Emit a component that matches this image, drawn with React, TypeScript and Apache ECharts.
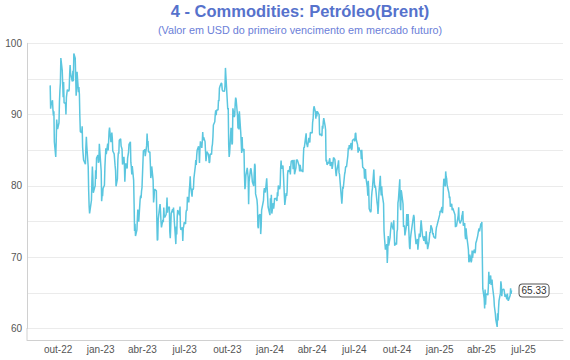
import React, { useEffect, useRef } from 'react';
import * as echarts from 'echarts';

const titleText = '4 - Commodities: Petróleo(Brent)';
const subtitleText = '(Valor em USD do primeiro vencimento em mercado futuro)';

// first trading day shown (year, month 0-based, day)
const firstDay = [2022, 8, 14];

// Brent front-month closes, one inner array per month (weekday order)
const brent2022: number[][] = [
  [94.10, 90.84, 91.35, 92.00, 90.62, 89.83, 90.46, 86.15, 84.06, 86.27, 89.32, 88.49, 87.96],
  [88.86, 91.80, 93.37, 94.42, 97.92, 96.19, 94.29, 92.45, 94.57, 91.63, 91.62, 90.03, 92.41, 92.38, 93.50, 93.26, 93.52, 95.69, 96.96, 95.77, 94.83],
  [94.65, 96.16, 94.67, 98.57, 97.92, 95.36, 92.65, 93.67, 95.99, 93.14, 93.86, 92.86, 89.78, 87.62, 87.45, 88.36, 85.41, 85.34, 83.63, 83.19, 83.03, 85.43],
  [86.88, 85.57, 82.68, 79.35, 77.17, 76.15, 76.10, 77.99, 80.68, 82.70, 81.21, 79.04, 79.80, 79.99, 82.20, 80.98, 83.92, 84.33, 83.26, 83.46, 85.91],
];

const brent2023: number[][] = [
  [82.10, 77.84, 78.69, 78.57, 79.65, 80.10, 82.67, 84.03, 85.28, 84.46, 85.92, 84.98, 86.16, 87.63, 88.19, 86.13, 86.12, 87.47, 86.66, 84.90, 84.49],
  [82.84, 82.17, 79.94, 80.99, 83.69, 84.69, 84.50, 86.39, 86.61, 85.58, 85.38, 85.14, 83.00, 84.07, 83.05, 80.60, 82.21, 83.16, 82.45, 83.89],
  [84.31, 84.75, 85.83, 86.18, 83.29, 82.66, 81.59, 82.78, 80.77, 77.45, 73.69, 74.70, 72.97, 73.79, 75.32, 76.69, 75.91, 74.99, 78.12, 78.65, 78.28, 79.27, 79.77],
  [84.93, 84.94, 84.99, 85.12, 84.18, 85.61, 87.33, 86.09, 86.31, 84.76, 84.77, 83.12, 81.10, 81.66, 82.73, 80.77, 77.69, 78.37, 79.54],
  [79.31, 75.32, 72.33, 72.50, 75.30, 77.01, 77.44, 76.41, 74.98, 74.17, 75.23, 74.91, 76.96, 75.86, 75.58, 75.99, 76.84, 78.36, 76.26, 76.95, 77.07, 73.54, 72.66],
  [74.28, 76.13, 76.71, 76.29, 76.95, 75.96, 74.79, 71.84, 74.29, 73.20, 75.67, 76.61, 76.09, 75.90, 77.12, 74.14, 73.85, 74.18, 72.26, 74.03, 74.34, 74.90],
  [74.65, 76.25, 76.65, 76.52, 78.47, 77.69, 79.40, 80.11, 81.36, 79.87, 78.50, 79.63, 79.46, 79.64, 81.07, 82.74, 83.64, 82.92, 84.24, 84.99, 85.56],
  [84.91, 83.20, 85.14, 86.24, 85.34, 86.17, 87.55, 86.40, 86.81, 86.21, 84.89, 83.45, 84.12, 84.80, 84.46, 84.03, 83.21, 83.36, 84.48, 84.42, 85.49, 85.86, 86.86],
  [88.55, 88.99, 90.04, 90.60, 89.92, 90.65, 90.64, 92.06, 91.88, 93.70, 93.93, 94.43, 94.34, 93.53, 93.30, 93.27, 93.29, 93.96, 96.55, 95.38, 95.31],
  [90.71, 90.92, 85.81, 84.07, 84.58, 88.15, 87.65, 85.82, 86.00, 90.89, 89.65, 89.90, 91.50, 92.38, 92.16, 89.83, 88.07, 90.13, 87.93, 90.48, 87.45, 87.41],
  [84.63, 86.85, 84.89, 85.18, 81.61, 79.54, 80.01, 81.43, 82.52, 82.47, 81.18, 77.42, 80.61, 82.32, 82.45, 81.96, 81.42, 80.58, 79.98, 81.68, 83.10, 82.83],
  [78.88, 78.03, 77.20, 74.30, 74.05, 75.84, 76.03, 73.24, 74.26, 76.61, 76.55, 77.95, 79.23, 79.70, 79.39, 79.07, 81.07, 79.65, 78.39, 77.04],
];

const brent2024: number[][] = [
  [75.89, 78.25, 77.59, 78.76, 76.12, 77.59, 76.80, 77.41, 78.29, 78.15, 78.29, 77.88, 79.10, 78.56, 80.06, 79.55, 80.04, 82.43, 83.55, 82.40, 82.87, 81.71],
  [78.70, 77.33, 78.99, 78.59, 79.21, 81.63, 82.19, 82.00, 82.77, 81.60, 82.86, 83.47, 83.56, 82.34, 83.03, 83.67, 81.62, 82.53, 83.65, 83.68, 83.62],
  [83.55, 82.80, 82.04, 82.96, 82.96, 82.08, 82.21, 81.92, 84.03, 85.42, 85.34, 86.89, 87.38, 85.95, 85.78, 85.43, 86.75, 86.25, 86.09, 87.48],
  [87.42, 88.92, 89.35, 90.65, 91.17, 90.38, 89.42, 90.48, 89.74, 90.45, 90.10, 90.02, 87.29, 87.11, 87.29, 87.00, 88.42, 88.02, 89.01, 89.50, 88.40, 87.86],
  [83.44, 83.67, 82.96, 83.33, 83.16, 83.58, 83.88, 82.79, 83.36, 82.38, 82.75, 83.27, 83.98, 83.71, 82.88, 81.90, 81.36, 82.12, 83.10, 83.60, 81.86, 81.62],
  [78.36, 77.52, 78.41, 79.87, 79.62, 81.63, 81.92, 82.60, 82.75, 82.62, 84.25, 85.33, 85.07, 85.71, 85.24, 86.01, 85.01, 85.25, 86.39, 86.41],
  [86.60, 86.24, 87.34, 87.43, 86.54, 85.75, 84.66, 85.08, 85.40, 85.03, 84.85, 83.73, 85.08, 85.11, 82.63, 82.40, 81.01, 81.71, 82.37, 81.13, 79.78, 78.63, 80.72],
  [79.52, 76.81, 76.30, 76.48, 78.33, 79.16, 79.66, 82.30, 80.69, 79.76, 80.04, 79.68, 77.66, 77.20, 76.05, 77.22, 79.02, 81.43, 79.55, 78.65, 79.94, 78.80],
  [77.52, 73.75, 72.70, 72.69, 71.06, 71.84, 69.19, 70.61, 72.97, 71.61, 72.75, 73.70, 73.65, 74.88, 74.49, 73.90, 75.17, 73.46, 71.60, 71.98, 71.77],
  [73.56, 73.90, 77.62, 78.05, 80.93, 77.18, 76.58, 79.40, 79.04, 77.46, 74.25, 74.22, 74.45, 73.06, 74.29, 76.04, 74.96, 74.38, 76.05, 71.42, 71.12, 72.55, 73.16],
  [73.10, 75.08, 75.53, 75.92, 75.63, 73.87, 71.83, 71.89, 72.28, 72.56, 71.04, 73.30, 73.31, 72.81, 74.23, 75.17, 73.01, 72.81, 72.83, 72.28, 72.94],
  [71.83, 73.62, 72.31, 72.09, 71.12, 72.14, 72.19, 73.52, 73.41, 74.49, 73.91, 73.19, 73.39, 72.88, 72.94, 72.63, 73.58, 74.17, 74.39, 74.64],
];

const brent2025: number[][] = [
  [75.93, 76.51, 76.30, 77.05, 76.16, 76.92, 79.76, 81.01, 79.92, 82.03, 81.29, 81.06, 80.15, 79.29, 79.00, 78.29, 78.50, 77.08, 77.49, 76.58, 76.87, 76.76],
  [75.96, 74.20, 74.61, 74.29, 74.66, 75.87, 77.00, 75.18, 75.02, 74.74, 75.22, 75.84, 76.04, 76.48, 74.43, 74.78, 73.02, 72.53, 74.04, 73.18],
  [71.62, 71.04, 69.30, 69.46, 70.36, 69.28, 69.56, 70.95, 69.88, 70.58, 71.07, 70.56, 70.78, 72.00, 72.16, 73.00, 73.02, 73.79, 74.03, 73.63, 74.74],
  [74.49, 74.95, 70.14, 65.58, 64.21, 62.82, 65.48, 63.33, 64.76, 64.88, 64.67, 65.85, 67.96, 66.26, 67.44, 66.12, 66.55, 66.87, 65.86, 64.25, 63.12],
  [62.13, 61.29, 60.23, 62.15, 61.12, 62.84, 63.91, 64.96, 66.63, 66.09, 64.53, 65.41, 65.54, 65.38, 64.91, 64.44, 64.78, 64.09, 64.90, 64.15, 63.90],
  [64.63, 65.63, 64.86, 65.33],
];

const tickLabels = ['out-22', 'jan-23', 'abr-23', 'jul-23', 'out-23', 'jan-24', 'abr-24', 'jul-24', 'out-24', 'jan-25', 'abr-25', 'jul-25'];
const tickDates = ['2022-10-01', '2023-01-01', '2023-04-01', '2023-07-01', '2023-10-01', '2024-01-01', '2024-04-01', '2024-07-01', '2024-10-01', '2025-01-01', '2025-04-01', '2025-07-01'];
const axisStart = '2022-07-26';
const axisEnd = '2025-09-24';
const yMin = 60;
const yMax = 100;
const yStep = 5;
const yLabelStep = 10;

function ts(s: string): number {
  const [y, m, d] = s.split('-').map(Number);
  return Date.UTC(y, m - 1, d);
}

function buildPoints(): [number, number][] {
  const months = [...brent2022, ...brent2023, ...brent2024, ...brent2025];
  const pts: [number, number][] = [];
  let y = firstDay[0];
  let m = firstDay[1];
  months.forEach((vals, mi) => {
    const dim = new Date(Date.UTC(y, m + 1, 0)).getUTCDate();
    const days: number[] = [];
    for (let d = mi === 0 ? firstDay[2] : 1; d <= dim; d++) {
      const wd = new Date(Date.UTC(y, m, d)).getUTCDay();
      if (wd !== 0 && wd !== 6) days.push(d);
    }
    vals.forEach((v, i) => {
      if (i < days.length) pts.push([Date.UTC(y, m, days[i]), v]);
    });
    m++;
    if (m > 11) {
      m = 0;
      y++;
    }
  });
  return pts;
}

export default function App() {
  const ref = useRef<HTMLDivElement>(null);
  useEffect(() => {
    document.body.style.margin = '0';
    if (!ref.current) return;
    const chart = echarts.init(ref.current, undefined, { renderer: 'svg' });
    const points = buildPoints();
    const tickTs = tickDates.map(ts);
    const font = '"Liberation Sans", Arial, Helvetica, sans-serif';
    chart.setOption({
      animation: false,
      backgroundColor: '#ffffff',
      textStyle: { fontFamily: font },
      title: {
        text: titleText,
        subtext: subtitleText,
        left: 295,
        top: -3,
        textAlign: 'center',
        itemGap: 5,
        textStyle: { fontSize: 16.5, fontWeight: 'bold', color: '#5672cc', fontFamily: font },
        subtextStyle: { fontSize: 10.8, color: '#6b80d8', fontFamily: font },
      },
      grid: { left: 27, right: 7, top: 43.3, bottom: 31.5 },
      xAxis: {
        type: 'value',
        min: ts(axisStart),
        max: ts(axisEnd),
        offset: 11.5,
        axisLine: { show: true, lineStyle: { color: '#d0d0d0', width: 1 } },
        axisTick: { show: false },
        splitLine: { show: false },
        axisLabel: {
          customValues: tickTs,
          margin: 4,
          fontSize: 10,
          color: '#555',
          fontFamily: font,
          formatter: (v: number) => {
            let best = -1;
            let bd = Infinity;
            tickTs.forEach((t, i) => {
              const dd = Math.abs(t - v);
              if (dd < bd) {
                bd = dd;
                best = i;
              }
            });
            return best >= 0 && bd < 86400000 * 2 ? tickLabels[best] : '';
          },
        },
      },
      yAxis: {
        type: 'value',
        min: yMin,
        max: yMax,
        interval: yStep,
        axisLine: { show: true, lineStyle: { color: '#d0d0d0', width: 1 } },
        axisTick: { show: false },
        splitLine: { show: true, lineStyle: { color: '#ebebeb', width: 1 } },
        axisLabel: {
          margin: 5,
          fontSize: 10,
          color: '#555',
          fontFamily: font,
          formatter: (v: number) => (v % yLabelStep === 0 ? String(v) : ''),
        },
      },
      graphic: [
        {
          type: 'line',
          shape: { x1: 27, y1: 328, x2: 27, y2: 340 },
          style: { stroke: '#d0d0d0', lineWidth: 1 },
          silent: true,
        },
      ],
      series: [
        {
          type: 'line',
          data: points,
          showSymbol: false,
          symbol: 'none',
          lineStyle: { color: '#5bc6df', width: 1.5 },
          itemStyle: { color: '#5bc6df' },
          endLabel: {
            show: true,
            distance: 8,
            formatter: (p: any) => Number(p.value[1]).toFixed(2),
            color: '#333',
            fontSize: 10,
            fontFamily: font,
            backgroundColor: '#fff',
            borderColor: '#555',
            borderWidth: 1,
            borderRadius: 3,
            padding: [1, 2, 1, 2],
          },
        },
      ],
    });
    return () => chart.dispose();
  }, []);
  return <div ref={ref} style={{ width: 570, height: 360 }} />;
}
